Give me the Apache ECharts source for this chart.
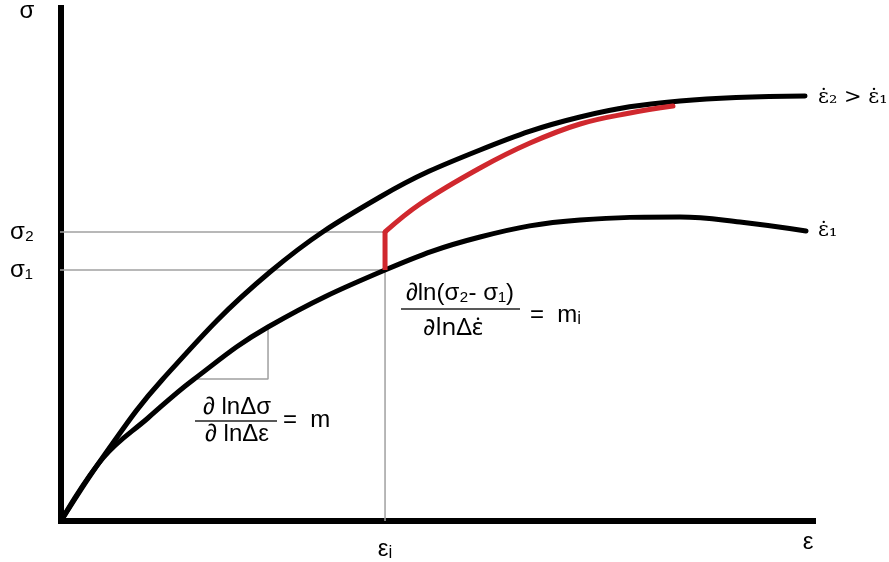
<!DOCTYPE html>
<html>
<head>
<meta charset="utf-8">
<script src="https://cdn.jsdelivr.net/npm/echarts@6/dist/echarts.min.js"></script>
<style>html,body{margin:0;padding:0;background:#fff}#c{width:889px;height:562px}</style>
</head>
<body>
<div id="c"></div>
<script>
// strain (ε) and stress (σ) in arbitrary units
const upperEps = [0, 5.59, 13.43, 27.79, 42.42, 55.72, 69.02, 82.31, 98.94];
const upperSig = [0, 12.48, 27.49, 48.54, 63.16, 72.32, 78.75, 81.87, 82.85];
const lowerEps = [0, 5.59, 11.57, 17.55, 27.53, 43.09, 55.72, 69.02, 82.31, 90.29, 99.07];
const lowerSig = [0, 12.28, 20.08, 27.49, 37.82, 48.93, 55.36, 58.67, 59.26, 58.28, 56.53];
const redEps = [43.09, 47.74, 55.72, 62.37, 69.02, 75.66, 81.38];
const redSig = [56.34, 61.79, 68.81, 73.68, 77.39, 79.53, 80.9];
const epsI = 43.09;
const sigma1 = 48.93;
const sigma2 = 56.34;
const guideStart = -1.73;
const triEps = [17.69, 27.53];
const triSig = [27.68, 37.82];
const sigmaTickLabels = ['σ₂', 'σ₁'];
const epsTickLabels = ['εᵢ'];
const curveLabels = ['ε̇₂ > ε̇₁', 'ε̇₁'];

const zip = (a, b) => a.map((v, i) => [v, b[i]]);
const chart = echarts.init(document.getElementById('c'));
const axisCommon = {
  type: 'value', min: 0, max: 100,
  axisLine: { show: true, onZero: false, lineStyle: { color: '#000', width: 6, cap: 'square' } },
  axisTick: { show: false }, axisLabel: { show: false }, splitLine: { show: false }
};
const guide = (data) => ({
  type: 'line', data, symbol: 'none', clip: false, silent: true, z: 1,
  lineStyle: { color: '#a0a0a0', width: 1.5 }
});
const curve = (data, color, z) => ({
  type: 'line', data, smooth: 0.4, symbol: 'none', z,
  lineStyle: { color, width: 5, cap: 'round' }
});
chart.setOption({
  animation: false,
  grid: { left: 61, right: 76, top: 8, bottom: 41 },
  xAxis: axisCommon,
  yAxis: axisCommon,
  series: [
    guide([[guideStart, sigma2], [epsI, sigma2]]),
    guide([[guideStart, sigma1], [epsI, sigma1]]),
    guide([[epsI, 0], [epsI, sigma1]]),
    guide([[triEps[0], triSig[0]], [triEps[1], triSig[0]], [triEps[1], triSig[1]]]),
    curve(zip(upperEps, upperSig), '#000', 3),
    curve(zip(lowerEps, lowerSig), '#000', 3),
    { type: 'line', data: [[epsI, sigma1], [epsI, sigma2]], symbol: 'none', z: 4,
      lineStyle: { color: '#d0282e', width: 5 } },
    curve(zip(redEps, redSig), '#d0282e', 4)
  ]
});

const px = (p) => chart.convertToPixel({ gridIndex: 0 }, p);
const FONT = '"Liberation Sans", "DejaVu Sans", sans-serif';
const SERIF = '"DejaVu Serif", serif';
const DOTF = '"Noto Sans", "DejaVu Sans", sans-serif';
const txt = (text, x, y, size, align, family) => ({
  type: 'text', z: 10,
  style: { text, x, y, fontSize: size, fontFamily: family || FONT, fill: '#000',
           align: align || 'left', verticalAlign: 'middle' }
});
const bar = (x1, x2, y) => ({ type: 'line', z: 10, shape: { x1, y1: y, x2, y2: y },
  style: { stroke: '#222', lineWidth: 1.3 } });

const s2 = px([0, sigma2]), s1 = px([0, sigma1]), ei = px([epsI, 0]);
const o = px([0, 0]), xEnd = px([100, 0]), yEnd = px([0, 100]);
const uEnd = px([upperEps[upperEps.length - 1], upperSig[upperSig.length - 1]]);
const lEnd = px([lowerEps[lowerEps.length - 1], lowerSig[lowerSig.length - 1]]);
chart.setOption({
  graphic: [
    txt('σ', 27, yEnd[1] + 3, 24, 'center'),
    txt('ε', xEnd[0] - 5, o[1] + 21, 24, 'center'),
    txt(sigmaTickLabels[0], 10, s2[1], 24, 'left'),
    txt(sigmaTickLabels[1], 10, s1[1], 24, 'left'),
    txt(epsTickLabels[0], ei[0], o[1] + 28, 24, 'center'),
    txt(curveLabels[0], uEnd[0] + 13, uEnd[1] + 2, 21, 'left', SERIF),
    txt(curveLabels[1], lEnd[0] + 12, lEnd[1], 21, 'left', SERIF),
    txt('∂ln(σ₂- σ₁)', 460, 293, 24, 'center'),
    bar(401, 520, 309),
    txt('∂lnΔε̇', 453, 328, 24, 'center', DOTF),
    txt('=  mᵢ', 530, 315, 24, 'left'),
    txt('∂ lnΔσ', 237, 407, 24, 'center'),
    bar(195, 277, 421),
    txt('∂ lnΔε', 237, 434, 24, 'center'),
    txt('=  m', 283, 420, 24, 'left')
  ]
});
</script>
</body>
</html>
